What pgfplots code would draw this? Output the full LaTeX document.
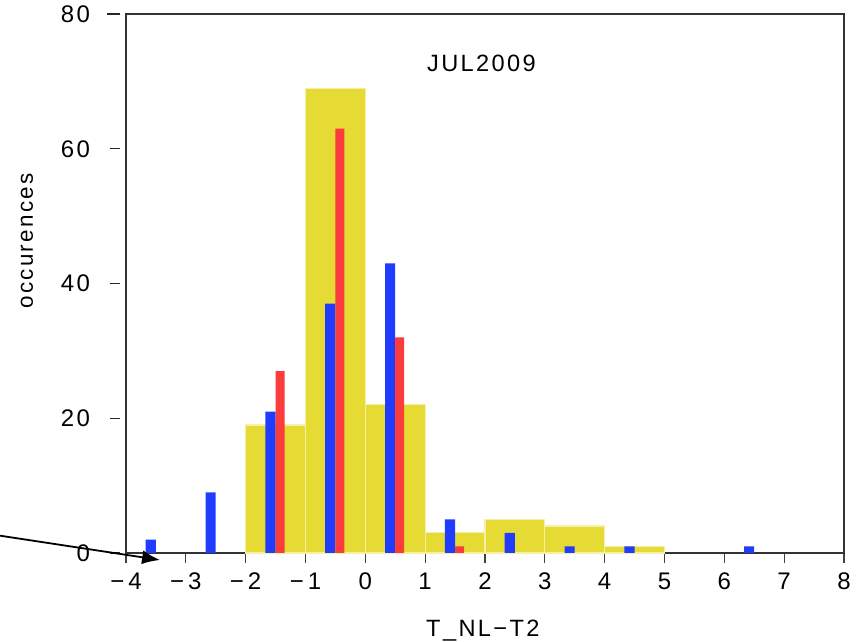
\documentclass[border=0pt]{standalone}
\usepackage{fontspec}
\setmainfont{Liberation Sans}[LetterSpace=10]
\usepackage{pgfplots}
\pgfplotsset{compat=1.18}
\usetikzlibrary{arrows.meta}
\definecolor{yel}{RGB}{229,219,52}
\definecolor{yeledge}{RGB}{245,240,165}
\definecolor{blu}{RGB}{32,60,255}
\definecolor{rd}{RGB}{250,60,60}
\begin{document}
\begin{tikzpicture}
\begin{axis}[
  name=ax,
  scale only axis,
  width=359pt, height=269.5pt,
  xmin=-4, xmax=8, ymin=0, ymax=80,
  clip=false,
  axis line style={black!80, line width=0.6pt},
  xtick={-4,-3,-2,-1,0,1,2,3,4,5,6,7,8},
  xticklabels={−\,4,−\,3,−\,2,−\,1,0,1,2,3,4,5,6,7,8},
  ytick={0,20,40,60,80},
  yticklabels={0,20,40,60,80},
  xtick pos=bottom, ytick pos=left,
  tick align=outside,
  major tick length=5pt,
  xtick style={black!75, line width=0.6pt},
  ytick style={black!85, line width=0.7pt, xshift=-3pt, shorten <=-1.5pt},
  tick label style={font=\fontsize{12}{14}\selectfont},
  yticklabel style={xshift=-9.5pt},
  xticklabel style={yshift=-1.5pt},
  xlabel={T\_NL−T2},
  xlabel style={at={(axis description cs:0.497,-0.155)}, anchor=base, font=\fontsize{11.8}{14}\selectfont},
  ylabel={occurences},
  ylabel style={at={(axis description cs:-0.138,0.579)}, anchor=center, font=\fontsize{11.2}{14}\selectfont},
]
\addplot[ybar, bar width=1, bar shift=0pt, fill=yel, draw=yeledge, line width=0.6pt]
  coordinates {(-1.5,19) (-0.5,69) (0.5,22) (1.5,3) (2.5,5) (3.5,4) (4.5,1)};
\addplot[ybar, bar width=0.17, bar shift=0pt, fill=blu, draw=none]
  coordinates {(-3.585,2) (-2.585,9) (-1.585,21) (-0.585,37) (0.415,43) (1.415,5) (2.415,3) (3.415,1) (4.415,1) (6.415,1)};
\addplot[ybar, bar width=0.15, bar shift=0pt, fill=rd, draw=none]
  coordinates {(-1.425,27) (-0.425,63) (0.575,32) (1.575,1)};
\node[anchor=base, font=\fontsize{11.8}{14}\selectfont] at (axis cs:1.94,71.4) {JUL2009};
\draw[black, line width=0.9pt, -{Latex[length=9pt,width=7pt]}] (axis cs:-6.106,2.57) -- (axis cs:-3.43,-1.04);
\end{axis}
\pgfresetboundingbox
\path[use as bounding box] ([shift={(-63pt,-44.5pt)}]ax.south west) rectangle ([shift={(368.5pt,276.5pt)}]ax.south west);
\end{tikzpicture}
\end{document}
